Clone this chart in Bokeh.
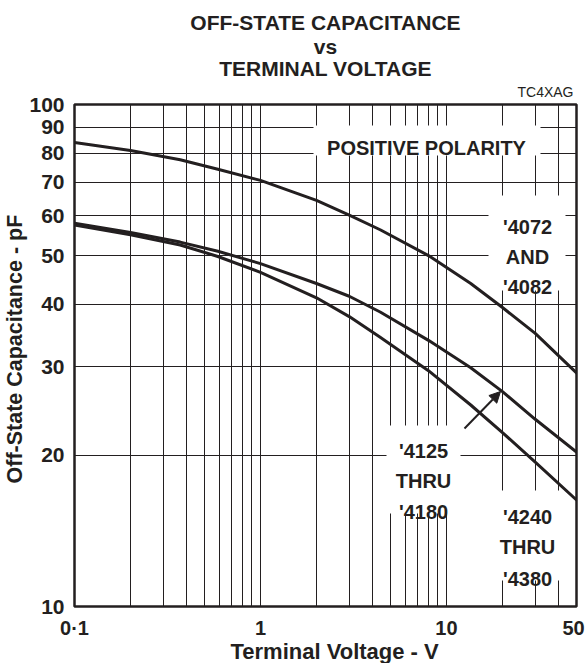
from bokeh.plotting import figure
from bokeh.models import Range1d, FixedTicker, Label, BoxAnnotation, Arrow, NormalHead, Title
from bokeh.embed import file_html
from bokeh.resources import INLINE
import math

# ---------------- data ----------------
volts = [0.1, 0.2, 0.37, 0.59, 1, 2, 3, 4.4, 8, 13.5, 20, 30, 50]
cap_4072_4082 = [84, 81, 77.6, 74.3, 70.6, 64.4, 60.2, 56.3, 50, 44, 39.4, 35, 29.2]
cap_4125_4180 = [58, 55.6, 53.2, 51, 48.2, 44, 41.5, 38.6, 33.9, 29.9, 26.8, 23.6, 20.3]
cap_4240_4380 = [57.5, 55, 52.5, 49.8, 46.3, 41.2, 37.8, 34.4, 29.5, 25.2, 22.2, 19.4, 16.3]

x_ticks = [0.1, 1, 10, 50]
x_tick_labels = ["0·1", "1", "10", "50"]
x_grid = [0.1, 0.2, 0.3, 0.4, 0.5, 0.6, 0.7, 0.8, 0.9,
          1, 2, 3, 4, 5, 6, 7, 8, 9, 10, 20, 30, 40, 50]
y_ticks = [10, 20, 30, 40, 50, 60, 70, 80, 90, 100]
y_tick_labels = ["10", "20", "30", "40", "50", "60", "70", "80", "90", "100"]

# ---------------- geometry (page pixels) ----------------
W, H = 585, 663
L, R, T, B = 74, 9, 104, 57
FW, FH = W - L - R, H - T - B
X0, X1 = 0.1, 50
Y0, Y1 = 10, 100

def xv(px):
    return 10 ** (math.log10(X0) + (px - L) / FW * math.log10(X1 / X0))

def yv(py):
    return 10 ** (math.log10(Y0) + (T + FH - py) / FH * math.log10(Y1 / Y0))

INK = "#231f20"
FONT = "Liberation Sans"

p = figure(width=W, height=H, x_axis_type="log", y_axis_type="log",
           x_range=Range1d(X0, X1), y_range=Range1d(Y0, Y1),
           output_backend="svg", toolbar_location=None,
           min_border_left=L, min_border_right=R, min_border_top=T, min_border_bottom=B)
p.background_fill_color = "white"
p.border_fill_color = "white"
p.outline_line_color = INK
p.outline_line_width = 2.5

# grid
p.xgrid.ticker = FixedTicker(ticks=x_grid)
p.ygrid.ticker = FixedTicker(ticks=y_ticks)
for g in (p.xgrid, p.ygrid):
    g.grid_line_color = INK
    g.grid_line_width = 1
    g.grid_line_alpha = 1

# axes
# the "50" label sits a few pixels left of the right edge, as in the reference
x_label_pos = [v if v != X1 else xv(L + FW - 3) for v in x_ticks]
p.xaxis.ticker = FixedTicker(ticks=x_label_pos)
p.xaxis.major_label_overrides = {pos: t for pos, t in zip(x_label_pos, x_tick_labels)}
p.yaxis.ticker = FixedTicker(ticks=y_ticks)
p.yaxis.major_label_overrides = {v: t for v, t in zip(y_ticks, y_tick_labels)}
for ax in (p.xaxis, p.yaxis):
    ax.axis_line_color = None
    ax.major_tick_line_color = None
    ax.minor_tick_line_color = None
    ax.major_tick_out = 0
    ax.major_tick_in = 0
    ax.minor_tick_out = 0
    ax.minor_tick_in = 0
    ax.major_label_text_font = FONT
    ax.major_label_text_font_style = "bold"
    ax.major_label_text_color = INK
    ax.major_label_standoff = 10
p.xaxis.major_label_text_font_size = "20px"
p.yaxis.major_label_text_font_size = "21px"

# curves
for series in (cap_4072_4082, cap_4125_4180, cap_4240_4380):
    p.line(volts, series, line_color=INK, line_width=3, line_join="round", line_cap="round")

# white boxes behind in-plot texts (page pixel bounds)
boxes = [
    (313, 540, 125, 155),   # POSITIVE POLARITY
    (488, 565, 195, 290),   # '4072 AND '4082
    (386, 460, 425, 513),   # '4125 THRU '4180
    (495, 563, 490, 580),   # '4240 THRU '4380
]
for (l, r, t, b) in boxes:
    p.add_layout(BoxAnnotation(left=xv(l), right=xv(r), top=yv(t), bottom=yv(b),
                               fill_color="white", fill_alpha=1, line_color=None))

def lab(text, px, py, size=20):
    p.add_layout(Label(x=xv(px), y=yv(py), text=text, text_align="center",
                       text_baseline="alphabetic", text_font=FONT,
                       text_font_size=f"{size}px", text_font_style="bold",
                       text_color=INK))

lab("POSITIVE POLARITY", 426, 147.5)
lab("'4072", 527, 226.5)
lab("AND", 527, 256)
lab("'4082", 527, 286.5)
lab("'4125", 423, 450)
lab("THRU", 423, 480)
lab("'4180", 423, 511)
lab("'4240", 527, 516.5)
lab("THRU", 527, 546.5)
lab("'4380", 527, 578)

p.add_layout(Arrow(end=NormalHead(size=11, fill_color=INK, line_color=INK, line_width=1),
                   x_start=xv(464), y_start=yv(428), x_end=xv(500), y_end=yv(391),
                   line_color=INK, line_width=2))

# titles (first added sits closest to the frame)
def title(text, size, bold=True, align="center", offset=0, standoff=0,
          valign="bottom", where="above"):
    p.add_layout(Title(text=text, align=align, offset=offset, standoff=standoff,
                       vertical_align=valign,
                       text_font=FONT, text_font_size=f"{size}px",
                       text_font_style="bold" if bold else "normal",
                       text_color=INK), where)

title("TC4XAG", 14, bold=False, align="right", offset=3, standoff=7, valign="middle")
title("TERMINAL VOLTAGE", 21, standoff=0)
title("vs", 21, standoff=-7)
title("OFF-STATE CAPACITANCE", 21, standoff=6)
title("Terminal Voltage - V", 22, align="left", offset=156, standoff=-8,
      valign="middle", where="below")
title("Off-State Capacitance - pF", 21.5, align="left", offset=123, standoff=0,
      where="left")

open("out.html", "w").write(file_html(p, INLINE))
